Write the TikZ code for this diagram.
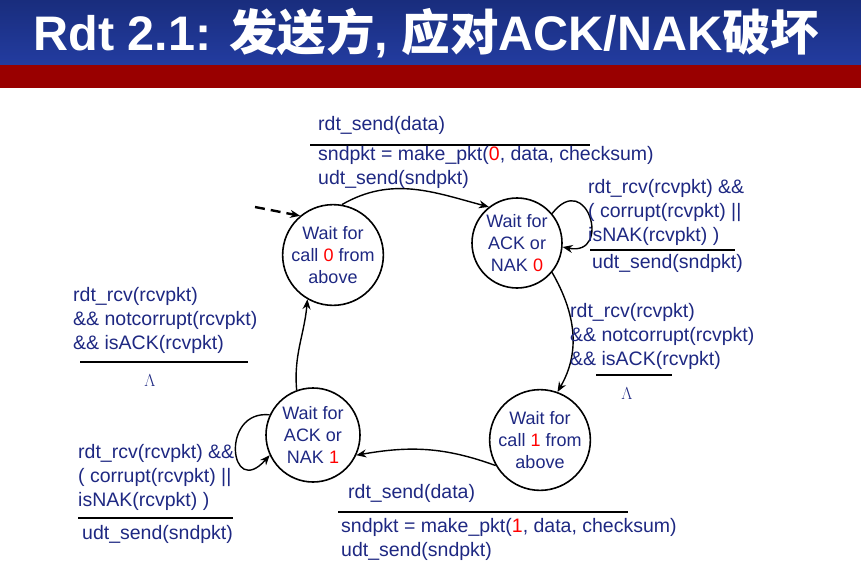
\documentclass[tikz,border=0pt]{standalone}
\usepackage{fontspec}
\setmainfont{Liberation Sans}
\newfontfamily\cjk{Noto Sans CJK SC}
\usetikzlibrary{arrows.meta}
\definecolor{navy}{RGB}{30,40,130}
\begin{document}
\begin{tikzpicture}[x=1pt,y=-1pt,
  st/.style={circle,draw,line width=1.6pt,minimum size=94pt,inner sep=0pt,align=center,text=navy,font=\fontsize{18}{22}\selectfont},
  lbl/.style={anchor=north west,inner sep=0pt,align=left,text=navy,font=\fontsize{19.5}{24}\selectfont},
  tr/.style={-{Stealth[length=10pt,width=8pt]},line width=1.4pt},
  bar/.style={line width=2pt}]
\useasboundingbox (0,0) rectangle (861,580);
\shade[top color={rgb,255:red,25;green,45;blue,125},bottom color={rgb,255:red,35;green,60;blue,160}] (0,0) rectangle (861,65);
\fill[red!60!black] (0,65) rectangle (861,88);
\node[anchor=west,text=white,font=\bfseries\fontsize{48.5}{50}\selectfont] (title) at (30,33) {Rdt 2.1: {\cjk 发送方}, {\cjk 应对}ACK/NAK{\cjk 破坏}};
\def\z#1{\textcolor{red}{#1}}
\node[st] (s0) at (333,255) {Wait for\\call \z{0} from\\above};
\node[st,minimum size=90pt] (s1) at (517,243) {Wait for\\ACK or\\NAK \z{0}};
\node[st,minimum size=92pt] (s2) at (540,440) {Wait for\\call \z{1} from\\above};
\node[st] (s3) at (313,435) {Wait for\\ACK or\\NAK \z{1}};
\coordinate (init) at (255,207);
\draw[tr,dashed,line width=2.4pt,dash pattern=on 10pt off 6pt] (init) -- (s0.130);
\draw[tr] (s0.80) to[out=30,in=165] (s1.128);
\draw[tr] (s1.-40) to[out=-60,in=60] (s2.70);
\draw[tr] (s2.-150) to[out=160,in=10] (s3.-25);
\draw[tr] (s3.110) to[out=95,in=-95] (s0.-120);
\draw[tr] (s1.40) .. controls +(35,-45) and +(50,10) .. (s1.-5);
\draw[tr] (s3.155) .. controls +(-50,-5) and +(-40,45) .. (s3.205);
% labels
\node[lbl] (l1) at (318,116) {rdt\_send(data)};
\draw[bar] (310,145) -- (590,145);
\node[lbl] (l1b) at (318,146) {sndpkt = make\_pkt(\z{0}, data, checksum)\\udt\_send(sndpkt)};
\node[lbl] (l2) at (588,179) {rdt\_rcv(rcvpkt) \&\&\\( corrupt(rcvpkt) ||\\isNAK(rcvpkt) )};
\draw[bar] (590,250) -- (735,250);
\node[lbl] (l2b) at (592,254) {udt\_send(sndpkt)};
\node[lbl] (l3) at (570,303) {rdt\_rcv(rcvpkt)\\\&\& notcorrupt(rcvpkt)\\\&\& isACK(rcvpkt)};
\draw[bar] (596,375) -- (672,375);
\node[text=navy,font=\fontsize{19}{20}\selectfont] (lam1) at (627,394) {$\Lambda$};
\node[lbl] (l4) at (73,287) {rdt\_rcv(rcvpkt)\\\&\& notcorrupt(rcvpkt)\\\&\& isACK(rcvpkt)};
\draw[bar] (80,362) -- (248,362);
\node[text=navy,font=\fontsize{19}{20}\selectfont] (lam2) at (150,381) {$\Lambda$};
\node[lbl] (l5) at (78,444) {rdt\_rcv(rcvpkt) \&\&\\( corrupt(rcvpkt) ||\\isNAK(rcvpkt) )};
\draw[bar] (78,518) -- (233,518);
\node[lbl] (l5b) at (82,525) {udt\_send(sndpkt)};
\node[lbl] (l6) at (348,484) {rdt\_send(data)};
\draw[bar] (338,512) -- (628,512);
\node[lbl] (l6b) at (341,518) {sndpkt = make\_pkt(\z{1}, data, checksum)\\udt\_send(sndpkt)};
\end{tikzpicture}
\end{document}
